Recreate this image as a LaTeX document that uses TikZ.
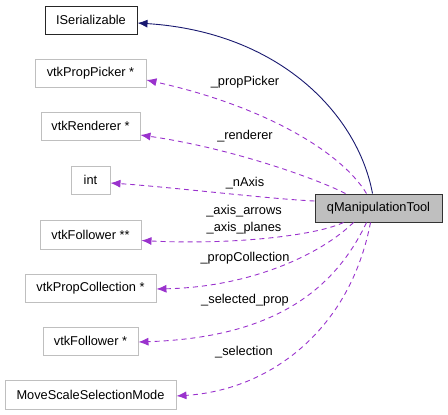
\documentclass[tikz,border=0pt]{standalone}
\usepackage{fontspec}
\setmainfont{Liberation Sans}
\usetikzlibrary{arrows.meta}
\definecolor{boxgray}{HTML}{BFBFBF}
\definecolor{edgepurple}{HTML}{9A32CD}
\definecolor{edgenavy}{HTML}{191970}
\begin{document}
\begin{tikzpicture}[x=1pt,y=-1pt,
  every node/.style={font=\fontsize{12.8}{15}\selectfont, inner sep=0pt},
  cls/.style={draw=boxgray, line width=0.9pt, fill=white, minimum height=28pt},
  focus/.style={draw=black!80, line width=1pt, fill=boxgray, minimum height=28pt},
  base/.style={draw=black!85, line width=1pt, fill=white, minimum height=28pt},
  member/.style={draw=edgepurple, line width=0.9pt, dash pattern=on 5pt off 4pt,
    -{Latex[length=10pt,width=8pt]}},
  inherit/.style={draw=edgenavy, line width=0.9pt, -{Latex[length=10pt,width=8pt]}},
  lbl/.style={font=\fontsize{12.8}{15}\selectfont}
]
\useasboundingbox (0,0) rectangle (448,415);
\node[base, minimum width=92pt] (iser) at (91,20) {ISerializable};
\node[cls, minimum width=111pt] (pp) at (90.5,73) {vtkPropPicker *};
\node[cls, minimum width=99pt] (rend) at (90.5,126) {vtkRenderer *};
\node[cls, minimum width=39pt] (int) at (90.5,180) {int};
\node[cls, minimum width=101pt, minimum height=29pt] (f2) at (90.5,234.5) {vtkFollower **};
\node[cls, minimum width=131pt] (pc) at (90.5,288) {vtkPropCollection *};
\node[cls, minimum width=95pt] (f1) at (90.5,341) {vtkFollower *};
\node[cls, minimum width=171pt, minimum height=29pt] (ms) at (90.5,394.5) {MoveScaleSelectionMode};
\node[focus, minimum width=127pt] (q) at (378.5,208) {qManipulationTool};

\draw[inherit] ([xshift=58pt]q.north west) .. controls (358,115) and (280,32) .. ([yshift=-3pt]iser.east);
\draw[member] ([xshift=52pt]q.north west) .. controls (340,150) and (260,105) .. ([yshift=-7pt]pp.east);
\draw[member] ([xshift=31pt]q.north west) .. controls (315,178) and (230,148) .. ([yshift=-9pt]rend.east);
\draw[member] ([yshift=7pt]q.west) .. controls (270,199) and (170,187) .. ([yshift=-3pt]int.east);
\draw[member] ([xshift=29pt]q.south west) .. controls (315,236) and (230,245) .. ([yshift=-6pt]f2.east);
\draw[member] ([xshift=39pt]q.south west) .. controls (320,255) and (250,287) .. ([yshift=-1pt]pc.east);
\draw[member] ([xshift=52pt]q.south west) .. controls (330,300) and (260,338) .. ([yshift=-1pt]f1.east);
\draw[member] ([xshift=56pt]q.south west) .. controls (350,330) and (270,390) .. ([yshift=-1.5pt]ms.east);

\node[lbl] (l1) at (245,82) {\_propPicker};
\node[lbl] (l2) at (245,136) {\_renderer};
\node[lbl] (l3) at (245,183) {\_nAxis};
\node[lbl] (l4) at (244,211) {\_axis\_arrows};
\node[lbl] (l5) at (244,228) {\_axis\_planes};
\node[lbl] (l6) at (245,258) {\_propCollection};
\node[lbl] (l7) at (245,300) {\_selected\_prop};
\node[lbl] (l8) at (244,352) {\_selection};
\end{tikzpicture}
\end{document}
